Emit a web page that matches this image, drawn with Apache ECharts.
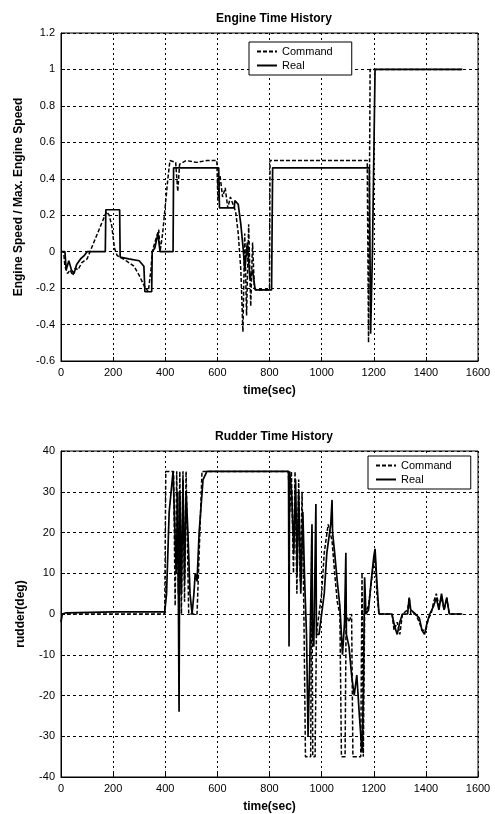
<!DOCTYPE html>
<html>
<head>
<meta charset="utf-8">
<script src="https://cdn.jsdelivr.net/npm/echarts@6/dist/echarts.min.js"></script>
<style>
  html, body { margin: 0; padding: 0; background: #fff; }
  #chart { width: 495px; height: 814px; }
</style>
</head>
<body>
<div id="chart"></div>
<script>
// engine: [time(sec), speed / max speed]
const engineCommand = [
  [0, 0], [10, 0], [15, -0.08], [25, -0.12], [35, -0.1], [45, -0.13], [55, -0.09], [65, -0.1],
  [80, -0.06], [100, -0.04], [120, 0.03], [140, 0.1], [160, 0.17], [175, 0.22], [185, 0.2],
  [195, 0.14], [205, 0.02], [215, -0.02], [225, -0.03], [240, -0.04], [260, -0.06], [280, -0.08],
  [300, -0.13], [320, -0.19], [335, -0.22], [345, -0.1], [350, 0], [360, 0.05], [375, 0.12],
  [380, 0], [390, 0.1], [400, 0.25], [410, 0.4], [418, 0.5], [440, 0.49], [448, 0.33], [455, 0.48],
  [480, 0.5], [520, 0.49], [560, 0.5], [598, 0.5], [602, 0.28], [610, 0.42], [620, 0.3],
  [630, 0.35], [640, 0.24], [650, 0.3], [660, 0.26], [670, 0.22], [680, 0.1], [690, -0.1],
  [698, -0.44], [705, 0.1], [712, -0.35], [720, 0.15], [728, -0.3], [735, 0.05], [742, -0.2],
  [750, -0.21], [800, -0.21], [802, 0.5], [1000, 0.5], [1175, 0.5], [1180, -0.5], [1186, 1.0],
  [1540, 1.0]
]
const engineReal = [
  [0, 0], [15, 0], [20, -0.1], [30, -0.05], [40, -0.1], [50, -0.12], [60, -0.07], [75, -0.04],
  [90, -0.02], [100, 0], [170, 0], [172, 0.23], [225, 0.23], [227, -0.03], [260, -0.04],
  [300, -0.05], [318, -0.08], [322, -0.22], [348, -0.22], [350, 0], [360, 0.02], [372, 0.1],
  [380, 0], [430, 0], [432, 0.46], [605, 0.46], [608, 0.24], [665, 0.24], [667, 0.28],
  [680, 0.26], [690, 0.15], [700, 0], [705, -0.1], [715, 0.05], [725, -0.15], [735, -0.1],
  [745, -0.21], [808, -0.21], [812, 0.46], [1183, 0.46], [1188, -0.45], [1195, 0], [1205, 1.0],
  [1540, 1.0]
]

// rudder: [time(sec), deg]
const rudderCommand = [
  [0, 0], [398, 0], [402, 35], [432, 35], [438, 2], [444, 35], [450, 5], [456, 35], [462, 0],
  [468, 35], [474, 3], [480, 35], [486, 35], [490, 0], [522, 0], [541, 35], [872, 35], [878, 25],
  [884, 35], [892, 10], [898, 35], [905, 5], [912, 33], [918, 8], [925, 30], [932, 0], [938, -35],
  [958, -35], [962, 20], [966, -35], [975, -35], [980, -5], [990, 0], [1000, 5], [1010, 15],
  [1025, 22], [1040, 18], [1050, 10], [1060, 3], [1070, 0], [1076, -35], [1090, -35], [1094, 0],
  [1105, -2], [1115, 0], [1120, -35], [1150, -35], [1155, 10], [1160, -35], [1165, 0], [1180, 2],
  [1195, 10], [1205, 15], [1212, 5], [1220, 0], [1270, 0], [1278, -4], [1290, -2], [1300, -5],
  [1310, 0], [1330, 1], [1336, 4], [1342, 0], [1360, 0], [1375, -2], [1385, -4], [1400, -4],
  [1410, -1], [1420, 0], [1430, 3], [1440, 5], [1450, 2], [1460, 4], [1470, 1], [1480, 4],
  [1490, 0], [1540, 0]
]
const rudderReal = [
  [0, -2], [5, 0], [20, 0.3], [200, 0.5], [398, 0.5], [405, 5], [415, 25], [430, 35], [436, 35],
  [442, 10], [448, 30], [453, -24], [456, 30], [462, 5], [468, 33], [474, 8], [480, 30], [487, 20],
  [495, 5], [503, 0], [510, 5], [515, 10], [522, 8], [530, 20], [545, 33], [560, 35], [873, 35],
  [875, -8], [877, 35], [885, 30], [893, 15], [900, 33], [906, 10], [912, 30], [920, 5], [928, 25],
  [935, 8], [942, -5], [948, -30], [955, -10], [963, 22], [965, -5], [970, -8], [978, 27],
  [980, -5], [990, -5], [1000, 0], [1010, 5], [1020, 15], [1035, 22], [1040, 28], [1042, 20],
  [1050, 15], [1060, 8], [1070, 2], [1080, -10], [1088, -2], [1093, 15], [1095, -5], [1105, -8],
  [1115, -15], [1125, -20], [1135, -15], [1145, -25], [1155, -34], [1160, -20], [1165, 9],
  [1170, 0], [1180, 1], [1190, 8], [1200, 14], [1205, 16], [1212, 8], [1220, 0], [1270, 0],
  [1280, -3], [1290, -5], [1300, -2], [1310, 0], [1330, 0], [1336, 4], [1342, 1], [1360, 0],
  [1375, -1], [1385, -4], [1395, -5], [1405, -2], [1415, 0], [1430, 2], [1440, 4], [1450, 1],
  [1460, 5], [1470, 1], [1480, 4], [1490, 0], [1540, 0]
]

const FONT = 'Liberation Sans'

function xAxisOf(gridIndex) {
  return {
    type: 'value', gridIndex,
    min: 0, max: 1600, interval: 200,
    name: 'time(sec)', nameLocation: 'middle', nameGap: 24,
    nameTextStyle: { color: '#000', fontFamily: FONT, fontSize: 12, fontWeight: 'bold' },
    axisLine: { onZero: false, lineStyle: { color: '#000' } },
    axisTick: { inside: true, length: 4, lineStyle: { color: '#000' } },
    axisLabel: { color: '#000', fontFamily: FONT, fontSize: 11, margin: 6, formatter: v => String(v) },
    splitLine: { lineStyle: { color: '#000', type: [2, 3] } },
  }
}

function yAxisOf(gridIndex, min, max, interval, name) {
  return {
    type: 'value', gridIndex,
    min, max, interval,
    name, nameLocation: 'middle', nameGap: 34,
    nameTextStyle: { color: '#000', fontFamily: FONT, fontSize: 12, fontWeight: 'bold' },
    axisLine: { onZero: false, lineStyle: { color: '#000' } },
    axisTick: { inside: true, length: 4, lineStyle: { color: '#000' } },
    axisLabel: { color: '#000', fontFamily: FONT, fontSize: 11, margin: 6 },
    splitLine: { lineStyle: { color: '#000', type: [3, 3] } },
  }
}

function lineSeries(name, data, idx, dashed) {
  return {
    name, type: 'line', data,
    xAxisIndex: idx, yAxisIndex: idx,
    symbol: 'none',
    animation: false,
    lineStyle: { color: '#000', width: dashed ? 1.5 : 1.7, type: dashed ? [4, 2] : 'solid' },
    itemStyle: { color: '#000' },
  }
}

function legendOf(left, top) {
  return {
    left, top, orient: 'vertical',
    data: ['Command', 'Real'],
    itemWidth: 20, itemHeight: 10, itemGap: 3,
    padding: [4, 19, 4, 7],
    borderColor: '#000', borderWidth: 1, backgroundColor: '#fff',
    selectedMode: false,
    itemStyle: { opacity: 0 },
    textStyle: { color: '#000', fontFamily: FONT, fontSize: 11 },
  }
}

const chart = echarts.init(document.getElementById('chart'))
chart.setOption({
  backgroundColor: '#fff',
  animation: false,
  title: [
    { text: 'Engine Time History', left: 269, top: 8, textAlign: 'center',
      textStyle: { color: '#000', fontFamily: FONT, fontSize: 12, fontWeight: 'bold' } },
    { text: 'Rudder Time History', left: 269, top: 426, textAlign: 'center',
      textStyle: { color: '#000', fontFamily: FONT, fontSize: 12, fontWeight: 'bold' } },
  ],
  legend: [legendOf(249, 42), legendOf(368, 456)],
  grid: [
    { left: 61, top: 33, width: 417, height: 328, show: true, borderColor: '#000', borderWidth: 1 },
    { left: 61, top: 451, width: 417, height: 327, show: true, borderColor: '#000', borderWidth: 1 },
  ],
  xAxis: [xAxisOf(0), xAxisOf(1)],
  yAxis: [
    yAxisOf(0, -0.6, 1.2, 0.2, 'Engine Speed / Max. Engine Speed'),
    yAxisOf(1, -40, 40, 10, 'rudder(deg)'),
  ],
  series: [
    lineSeries('Command', engineCommand, 0, true),
    lineSeries('Real', engineReal, 0, false),
    lineSeries('Command', rudderCommand, 1, true),
    lineSeries('Real', rudderReal, 1, false),
  ],
})
</script>
</body>
</html>
